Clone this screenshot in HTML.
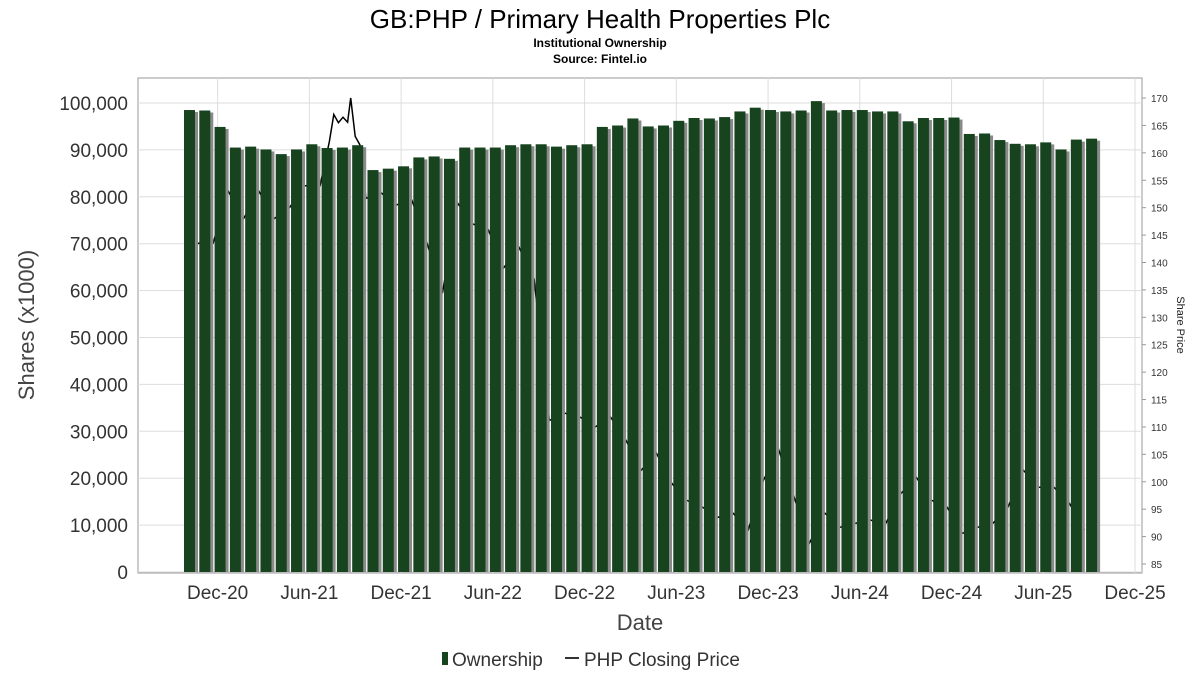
<!DOCTYPE html>
<html><head><meta charset="utf-8"><style>
body{margin:0;background:#fff;}
svg{display:block;font-family:"Liberation Sans","DejaVu Sans",sans-serif;}
</style></head><body>
<svg id="chart" width="1200" height="675" viewBox="0 0 1200 675">
<text x="600" y="28" text-anchor="middle" font-size="26" fill="#000">GB:PHP / Primary Health Properties Plc</text>
<text x="600" y="47" text-anchor="middle" font-size="12" font-weight="bold">Institutional Ownership</text>
<text x="600" y="63" text-anchor="middle" font-size="12" font-weight="bold">Source: Fintel.io</text>
<rect x="138" y="78" width="1004" height="495" fill="#fff" stroke="#999"/>
<g id="grid"></g><g id="price"></g><g id="bars"></g><g id="axes"></g>
<text transform="translate(34,325) rotate(-90)" text-anchor="middle" font-size="22" fill="#444">Shares (x1000)</text>
<text transform="translate(1177,325) rotate(90)" text-anchor="middle" font-size="11" fill="#222">Share Price</text>
<text x="640" y="630" text-anchor="middle" font-size="22" fill="#444">Date</text>
<g>
<rect x="442" y="652" width="6" height="13" fill="#17431f"/>
<text x="452" y="666" font-size="19" fill="#333">Ownership</text>
<line x1="565" y1="658" x2="579" y2="658" stroke="#333" stroke-width="2"/>
<text x="584" y="666" font-size="19" fill="#333">PHP Closing Price</text>
</g>
</svg>
<script>
const ownership=[98.5,98.4,94.9,90.5,90.7,90.1,89.1,90.1,91.2,90.4,90.5,91.0,85.7,86.0,86.5,88.4,88.6,88.1,90.5,90.5,90.5,91.0,91.2,91.2,90.7,91.0,91.2,94.9,95.2,96.7,95.0,95.2,96.2,96.8,96.7,97.0,98.2,99.0,98.5,98.2,98.4,100.4,98.4,98.5,98.5,98.2,98.2,96.1,96.8,96.8,96.9,93.4,93.5,92.1,91.3,91.2,91.6,90.1,92.2,92.4];
const priceMonths=[0.3,0.9,1.9,2.9,3.9,4.9,5.9,6.9,7.9,8.9,9.5,9.8,10.1,10.4,10.7,10.9,11.2,11.5,11.9,12.9,13.9,14.9,15.9,16.9,17.9,18.9,19.9,20.9,21.9,22.9,23.9,24.9,25.9,26.9,27.9,28.9,29.9,30.9,31.9,32.9,33.9,34.9,35.9,36.9,37.9,38.9,39.9,40.9,41.9,42.9,43.9,44.9,45.9,46.9,47.9,48.9,49.9,50.9,51.9,52.9,53.9,54.9,55.9,56.9,57.9,58.9];
const priceValues=[138,143.5,143.5,153,148,153,148,150,154,154,162,167,165.5,166.5,165.6,170,163,161.5,151.7,152.7,150.5,151.4,143.5,134.4,150.8,147,146,139,142.8,137,111.2,112.5,111.8,110,111.8,107.6,102.1,105.2,99.7,96.6,95.4,93.5,94.3,91.2,100.3,105.8,97.2,88.8,94.3,91.7,92.4,93,92.4,97.9,100.8,96.6,95.4,90.6,91.7,92.4,95.4,102.1,99,99,96.1,91.2];
const yTicks=[0,10000,20000,30000,40000,50000,60000,70000,80000,90000,100000];
const y2Ticks=[85,90,95,100,105,110,115,120,125,130,135,140,145,150,155,160,165,170];
const xLabels=["Dec-20","Jun-21","Dec-21","Jun-22","Dec-22","Jun-23","Dec-23","Jun-24","Dec-24","Jun-25","Dec-25"];
const xLabelMonths=[2.2,8.2,14.2,20.2,26.2,32.2,38.2,44.2,50.2,56.2,62.2];
const NS="http://www.w3.org/2000/svg";
const xS=m=>184+m*15.29;
const yS=v=>572-v*0.00469;
const y2S=v=>564-(v-85)*5.482;
function mk(t,a,p){const e=document.createElementNS(NS,t);for(const k in a)e.setAttribute(k,a[k]);p.appendChild(e);return e;}
const grid=document.getElementById('grid'),axes=document.getElementById('axes'),bars=document.getElementById('bars'),price=document.getElementById('price');
yTicks.forEach(v=>{const y=yS(v);
const g=mk('line',{x1:138,x2:1142,y1:y,y2:y,stroke:'#ddd'},grid);


const t=mk('text',{x:128,y:y+7,'text-anchor':'end','font-size':19,fill:'#333'},axes);t.textContent=v.toLocaleString('en-US');

});
y2Ticks.forEach(v=>{const y=y2S(v);
const t=mk('text',{x:1151,y:y+4,'font-size':10,fill:'#333'},axes);t.textContent=v;


mk('line',{x1:1142,x2:1146,y1:y,y2:y,stroke:'#999'},axes);});
xLabels.forEach((l,i)=>{const x=xS(xLabelMonths[i]);
const g=mk('line',{x1:x,x2:x,y1:78,y2:573,stroke:'#ddd'},grid);


const t=mk('text',{x:x,y:599,'text-anchor':'middle','font-size':19,fill:'#333'},axes);t.textContent=l;

});
const pts=priceMonths.map((m,i)=>xS(m).toFixed(1)+','+y2S(priceValues[i]).toFixed(1)).join(' ');
const pl=mk('polyline',{points:pts,fill:'none',stroke:'#000','stroke-width':1.5},price);


ownership.forEach((v,i)=>{const x=xS(i),y=yS(v*1000);
const s=mk('rect',{x:x+3,y:y+2,width:11,height:572-y-2,fill:'#8a8a8a'},bars);


const b=mk('rect',{x:x,y:y,width:11,height:572-y,fill:'#17431f'},bars);

});
</script>
</body></html>
